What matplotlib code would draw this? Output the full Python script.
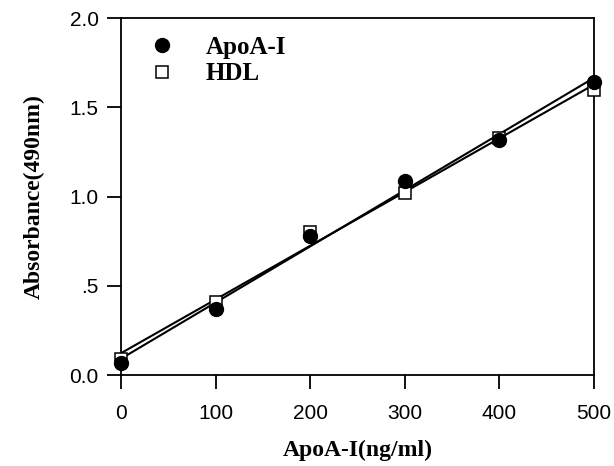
import numpy as np
import matplotlib.pyplot as plt
from matplotlib.ticker import FixedLocator

# data
conc = np.array([0, 100, 200, 300, 400, 500])
apoa = np.array([0.07, 0.37, 0.78, 1.09, 1.32, 1.64])
hdl = np.array([0.09, 0.41, 0.80, 1.02, 1.33, 1.60])
yticks = [0.0, 0.5, 1.0, 1.5, 2.0]
ylabels = ['0.0', '.5', '1.0', '1.5', '2.0']

fig = plt.figure(figsize=(6.14, 4.66), dpi=100)
ax = fig.add_axes([0.197, 0.195, 0.770, 0.766])

serif = {'family': 'Liberation Serif', 'weight': 'bold'}

# regression lines
xx = np.array([0, 500])
for y in (apoa, hdl):
    k, b = np.polyfit(conc, y, 1)
    ax.plot(xx, k * xx + b, color='black', lw=1.5, clip_on=False, zorder=2)

ax.plot(conc, hdl, 's', ms=8.5, mfc='white', mec='black', mew=1.1,
        clip_on=False, zorder=3, label='HDL')
ax.plot(conc, apoa, 'o', ms=10, color='black', clip_on=False, zorder=4,
        label='ApoA-I')

ax.set_xlim(0, 500)
ax.set_ylim(0, 2.0)
ax.set_xticks(conc)
ax.yaxis.set_major_locator(FixedLocator(yticks))
ax.set_yticklabels(ylabels)
ax.tick_params(direction='out', length=10, width=1.3, labelsize=15)
ax.tick_params(axis='x', pad=11)
ax.tick_params(axis='y', pad=6)
for lab in ax.get_xticklabels() + ax.get_yticklabels():
    lab.set_family('Liberation Sans')
for s in ax.spines.values():
    s.set_linewidth(1.3)

ax.set_xlabel('ApoA-I(ng/ml)', fontdict=serif, fontsize=17, labelpad=12)
ax.set_ylabel('Absorbance(490nm)', fontdict=serif, fontsize=17, labelpad=18)

h, l = ax.get_legend_handles_labels()
ax.legend(h[::-1], l[::-1], loc='upper left', frameon=False,
          prop={'family': 'Liberation Serif', 'weight': 'bold', 'size': 18},
          handletextpad=1.0, borderaxespad=0.3, labelspacing=0.15,
          handlelength=1.5, bbox_to_anchor=(0.01, 1.0))

fig.savefig('out.png', dpi=100)
